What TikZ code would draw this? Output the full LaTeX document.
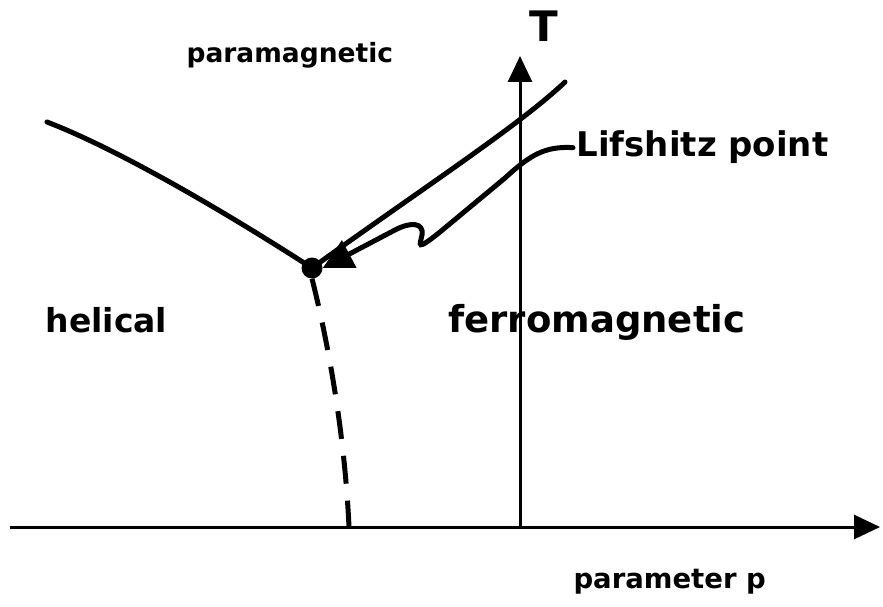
\documentclass[tikz,border=0pt]{standalone}
\usepackage{fontspec}
\setmainfont{DejaVu Sans}
\usetikzlibrary{arrows.meta}
\tikzset{
  hand/.style={font=\fontsize{#1}{#1}\selectfont\bfseries},
  axis/.style={line width=3pt,-{Triangle[length=26pt,width=24pt]}},
  curve/.style={line width=5pt,line cap=round}
}
\begin{document}
\begin{tikzpicture}[x=1pt,y=-1pt]
\useasboundingbox (0,0) rectangle (883,607);
% axes
\coordinate (O) at (520,527);
\coordinate (pl) at (10,527);
\coordinate (pr) at (880,527);
\coordinate (Tt) at (520,56);
\draw[axis] (pl)--(pr);
\draw[axis] (O)--(Tt);
\node[hand=42,anchor=base] (T) at (544,42) {T};
\node[hand=27.5,anchor=base west] (par) at (570,588) {parameter p};
% phase boundaries
\node[circle,fill,inner sep=0pt,minimum size=21pt] (lp) at (312,268) {};
\draw[curve] (47,122) .. controls (120,150) and (230,215) .. (lp.center);
\draw[curve] (lp.center) .. controls (420,190) and (520,125) .. (565,82);
\draw[curve,line cap=butt,dash pattern=on 28pt off 17pt] (lp.south) .. controls (330,350) and (345,440) .. (349,527);
% labels
\node[hand=26.5,anchor=base west] (para) at (183,63) {paramagnetic};
\node[hand=33,anchor=base west] (heli) at (42,332) {helical};
\node[hand=37,anchor=base west] (ferro) at (445,332) {ferromagnetic};
\node[hand=34,anchor=base west] (lif) at (573,157) {Lifshitz point};
\draw[curve,-{Triangle[length=30pt,width=30pt]}] (lif.west) .. controls (545,146) and (530,155) .. (505,178)
  -- (440,232) .. controls (415,252) and (420,245) .. (422,235)
  .. controls (424,222) and (410,222) .. (395,230) -- (lp.east);
\end{tikzpicture}
\end{document}
